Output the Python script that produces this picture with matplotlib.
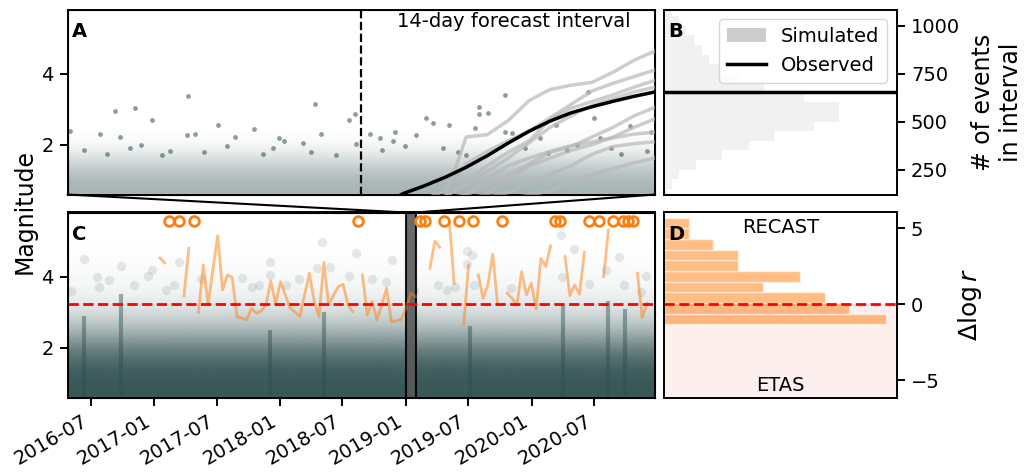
import numpy as np
import pandas as pd
import matplotlib
matplotlib.use("Agg")
import matplotlib.pyplot as plt
import matplotlib.dates as mdates
from matplotlib.colors import to_rgb
from matplotlib.lines import Line2D
from matplotlib.patches import ConnectionPatch, Patch

plt.rcParams['font.family'] = ['DejaVu Sans']
plt.rcParams['font.size'] = 14

SLATE = '#2f4f4f'
ORANGE = '#ff7f0e'
OFF = np.inf  # value beyond the top of the delta log r axis

# ---------------- panel A: catalogue around the forecast start ----------------
zoom_start = pd.Timestamp('2019-01-01')
forecast_start = pd.Timestamp('2019-01-15')
zoom_end = pd.Timestamp('2019-01-29')

# larger events standing out of the dense band (days after zoom_start, magnitude)
a_days = [0.1, 1.57, 2.26, 2.5, 3.2, 3.5, 4.04, 4.9, 5.7, 5.74, 6.1, 7.16, 8.0, 8.9,
          10.1, 10.3, 11.2, 11.8, 12.1, 13.4, 13.7, 13.75, 14.4, 14.9, 15.5, 15.6,
          16.6, 17.1, 17.4, 17.9, 18.2, 19.4, 19.6, 19.6, 20.06, 20.85, 20.85, 21.2,
          22.5, 23.3, 24.3, 24.8, 25.1, 25.4, 26.8, 27.6, 27.8,
          0.8, 1.9, 3.0, 4.5, 6.5, 7.6, 9.3, 9.8, 11.6, 12.8, 15.0, 16.1, 18.6,
          19.0, 21.8, 22.9, 23.8, 25.9, 26.4]
a_mags = [2.39, 2.30, 2.96, 2.22, 3.02, 2.00, 2.70, 1.81, 2.28, 3.36, 2.30, 2.56, 2.23, 2.45,
          2.19, 2.09, 2.06, 3.15, 2.31, 2.70, 2.86, 2.03, 2.30, 2.19, 2.09, 2.37,
          2.28, 2.75, 2.61, 1.91, 2.54, 2.47, 3.06, 2.86, 2.89, 3.39, 2.37, 2.33,
          2.19, 2.56, 2.00, 3.47, 2.75, 2.19, 2.52, 1.81, 2.37,
          1.85, 1.75, 1.90, 1.70, 1.80, 1.95, 1.75, 1.90, 1.80, 1.70, 1.85, 1.95, 1.80,
          1.72, 1.90, 1.78, 1.85, 1.90, 1.75]

# share of the background covered by small events, per 0.2 magnitude bin from 0.6
a_band_alpha = [0.42, 0.40, 0.36, 0.30, 0.22, 0.14, 0.07, 0.03, 0.012, 0, 0, 0, 0,
                0, 0, 0, 0, 0, 0, 0, 0, 0, 0, 0, 0, 0]

# cumulative number of events, day by day through the 14-day interval
obs_cum = [0, 65, 125, 165, 210, 262, 322, 388, 450, 503, 546, 578, 606, 632, 655]
sim_cum = [
    [0, 20, 45, 70, 100, 420, 432, 505, 610, 668, 690, 705, 758, 820, 868],
    [0, 30, 60, 95, 140, 280, 345, 400, 450, 520, 590, 660, 700, 735, 770],
    [0, 25, 50, 80, 105, 190, 270, 340, 400, 510, 570, 605, 640, 680, 715],
    [0, 28, 56, 85, 112, 170, 240, 310, 390, 470, 530, 585, 620, 655, 680],
    [0, 22, 45, 68, 92, 115, 170, 225, 280, 340, 370, 420, 470, 530, 575],
    [0, 20, 40, 60, 80, 100, 118, 200, 270, 310, 350, 380, 420, 470, 515],
    [0, 24, 48, 72, 97, 120, 200, 270, 310, 345, 375, 395, 415, 435, 445],
    [0, 17, 35, 52, 70, 88, 105, 130, 180, 225, 270, 330, 370, 385, 395],
    [0, 14, 28, 42, 56, 70, 85, 100, 115, 140, 180, 222, 255, 285, 310],
]

# ---------------- panel B: distribution of simulated counts ----------------
b_edges = [125, 150, 200, 250, 300, 350, 400, 450, 500, 550, 600, 650, 700, 750,
           800, 850, 900, 950, 1000, 1050, 1085]
b_freq = [3, 8, 15, 32, 58, 85, 110, 150, 175, 175, 140, 100, 75, 55, 45, 38, 30,
          22, 15, 8]

# ---------------- panel C: full catalogue ----------------
c_start = pd.Timestamp('2016-04-24')
c_end = pd.Timestamp('2020-12-24')

c_band_alpha = [0.95, 0.95, 0.94, 0.92, 0.88, 0.82, 0.74, 0.64, 0.53, 0.42, 0.32,
                0.24, 0.17, 0.12, 0.08, 0.055, 0.04, 0.03, 0.02, 0.014, 0.01,
                0.006, 0, 0, 0, 0]

# aftershock sequences showing as dark columns
swarm_dates = ['2016-06-11', '2016-09-25', '2017-12-02', '2018-05-07',
               '2019-07-05', '2020-03-31', '2020-08-09', '2020-09-29']
swarm_tops = [2.9, 3.5, 2.5, 3.0, 2.6, 3.2, 3.3, 3.1]

big_dates = ['2016-12-25', '2016-12-14', '2017-03-13', '2017-02-03', '2017-02-26',
             '2017-12-04', '2017-12-04', '2017-09-11', '2017-10-12', '2017-10-31',
             '2017-05-15', '2018-05-03', '2018-08-08', '2018-11-22', '2018-05-25',
             '2018-04-19', '2018-07-20', '2018-09-25', '2018-11-03', '2018-02-25',
             '2018-01-17', '2019-06-28', '2019-07-12', '2019-06-28', '2019-04-05',
             '2019-05-25', '2019-11-01', '2019-05-01', '2019-01-24', '2019-07-17',
             '2020-03-25', '2020-05-03', '2020-09-10', '2020-11-27', '2020-08-03',
             '2020-06-15', '2020-09-25', '2020-11-12', '2020-03-28',
             '2016-06-11', '2016-09-25', '2016-08-22', '2016-07-24', '2016-05-04',
             '2016-11-03', '2016-07-18']
big_mags = [4.17, 4.01, 4.40, 3.61, 3.75, 4.40, 4.05, 3.95, 3.70, 3.77,
            3.94, 4.98, 4.67, 4.47, 4.26, 4.23, 4.01, 3.92, 3.86, 3.92,
            3.75, 4.73, 4.61, 4.36, 3.77, 3.70, 3.67, 3.61, 3.61, 3.75,
            5.17, 4.78, 4.54, 4.01, 4.17, 3.79, 3.75, 3.56, 3.98,
            4.5, 4.3, 3.9, 3.7, 3.6, 3.75, 4.0]

# delta log r per 14-day window (RECAST vs ETAS)
first_window = '2017-01-17'
dlogr = [3.06, 2.73, OFF, np.nan, OFF, 0.56, 3.68, OFF, -0.53, 2.59,
         0.0, 2.3, 4.52, 0.94, 1.93, 1.76, -0.82, -0.92, -1.03, -0.26,
         -0.59, -0.44, -0.05, 1.54, 0.0, 1.49, 0.61, -0.26, -0.5, -0.81,
         0.6, 2.04, 0.18, -0.81, 2.76, -0.05, 0.6, 1.16, 1.31, -0.05,
         -0.49, OFF, 1.93, -0.71, 0.18, -1.02, -0.05, 1.05, -1.17, -1.1,
         -1.02, -0.3, 0.73, 0.51, OFF, OFF, 2.37, 4.17, 3.76, OFF,
         5.49, 1.38, OFF, -1.32, 2.59, OFF, 1.93, 0.4, 1.27, 3.31,
         0.0, OFF, 0.73, 0.4, -0.05, 2.15, 0.62, 1.4, -0.3, 3.03,
         2.48, 3.86, OFF, OFF, 3.14, 0.57, 1.27, 0.66, 3.43, OFF,
         np.nan, OFF, 1.82, 4.9, OFF, np.nan, OFF, OFF, OFF, 2.04,
         -0.88, 0.07]

# ---------------- panel D: histogram of delta log r ----------------
d_edges = [-1.33, -0.63, 0.07, 0.78, 1.48, 2.18, 2.89, 3.59, 4.29, 5.00, 5.70]
d_counts = [9.0, 7.5, 6.5, 4.0, 5.5, 3.0, 3.0, 2.0, 1.0, 1.0]

MAG_LIM = (0.6, 5.8)
COUNT_LIM = (120, 1085)
DLR_LIM = (-6.15, 6.05)


def draw_band(ax, x0, x1, alphas):
    rgba = np.zeros((len(alphas), 1, 4))
    rgba[..., :3] = to_rgb(SLATE)
    rgba[:, 0, 3] = alphas
    ax.imshow(rgba, extent=[mdates.date2num(x0), mdates.date2num(x1), *MAG_LIM],
              origin='lower', aspect='auto', interpolation='bilinear', zorder=0)


def style(ax):
    for s in ax.spines.values():
        s.set_linewidth(1.4)
    ax.tick_params(width=1.4, length=6, pad=4, labelsize=14)


W, H = 1033, 475
fig = plt.figure(figsize=(W / 100, H / 100), dpi=100)


def box(x0, y0, x1, y1):
    return [x0 / W, 1 - y1 / H, (x1 - x0) / W, (y1 - y0) / H]


ax_a = fig.add_axes(box(67.5, 9.5, 655, 194.5))
ax_b = fig.add_axes(box(664, 9.5, 897, 194.5))
ax_c = fig.add_axes(box(67.5, 212.5, 655, 397.5))
ax_d = fig.add_axes(box(664, 212.5, 897, 397.5))

# ---- A
ax_a.xaxis_date()
draw_band(ax_a, zoom_start, zoom_end, a_band_alpha)
a_dates = zoom_start + pd.to_timedelta(a_days, unit='D')
ax_a.scatter(a_dates, a_mags, s=12, color=SLATE, alpha=0.55, lw=0)
ax_a.axvline(forecast_start, color='black', ls='--', lw=1.6)
ax_a.set_xlim(zoom_start, zoom_end)
ax_a.set_ylim(*MAG_LIM)
ax_a.set_xticks([])
ax_a.set_yticks([2, 4])
ax_a.text(0.76, 0.985, '14-day forecast interval', transform=ax_a.transAxes,
          ha='center', va='top', fontsize=14)
ax_a.text(0.008, 0.93, 'A', transform=ax_a.transAxes, weight='bold', va='top')
style(ax_a)

ax_a2 = ax_a.twinx()
day_dates = forecast_start + pd.to_timedelta(np.arange(len(obs_cum)), unit='D')
for sim in sim_cum:
    ax_a2.plot(day_dates, sim, color='#b8b8b8', alpha=0.7, lw=2.5)
ax_a2.plot(day_dates, obs_cum, color='black', lw=2.5)
ax_a2.set_ylim(*COUNT_LIM)
ax_a2.set_yticks([])
ax_a2.set_xlim(zoom_start, zoom_end)

# ---- B
ax_b.barh(b_edges[:-1], b_freq, height=np.diff(b_edges), align='edge',
          color='#f1f1f1', lw=0)
ax_b.axhline(obs_cum[-1], color='black', lw=2.5)
ax_b.set_xlim(0, 233)
ax_b.set_ylim(*COUNT_LIM)
ax_b.set_xticks([])
ax_b.yaxis.tick_right()
ax_b.yaxis.set_label_position('right')
ax_b.set_yticks([250, 500, 750, 1000])
ax_b.set_ylabel('# of events\nin interval', fontsize=17, labelpad=8)
ax_b.legend(handles=[Patch(facecolor='#cccccc', label='Simulated'),
                     Line2D([], [], color='black', lw=2.5, label='Observed')],
            loc='upper right', fontsize=14)
ax_b.text(0.02, 0.93, 'B', transform=ax_b.transAxes, weight='bold', va='top')
style(ax_b)

# ---- C
ax_c.xaxis_date()
draw_band(ax_c, c_start, c_end, c_band_alpha)
ax_c.vlines(pd.to_datetime(swarm_dates), MAG_LIM[0], swarm_tops, color=SLATE,
            lw=3, alpha=0.45, zorder=1)
ax_c.scatter(pd.to_datetime(big_dates), big_mags, s=45, color=SLATE, alpha=0.12,
             lw=0, zorder=1)
ax_c.axvspan(zoom_start, zoom_end, facecolor='0.35', edgecolor='black', lw=1.5,
             alpha=0.9, zorder=3)
ax_c.set_xlim(c_start, c_end)
ax_c.set_ylim(*MAG_LIM)
ax_c.set_yticks([2, 4])
ax_c.xaxis.set_major_locator(mdates.MonthLocator(bymonth=[1, 7]))
ax_c.xaxis.set_major_formatter(mdates.DateFormatter('%Y-%m'))
plt.setp(ax_c.get_xticklabels(), rotation=30, ha='right')
ax_c.text(0.008, 0.93, 'C', transform=ax_c.transAxes, weight='bold', va='top')
style(ax_c)

ax_c2 = ax_c.twinx()
win_dates = pd.date_range(first_window, periods=len(dlogr), freq='14D')
vals = np.array(dlogr, dtype=float)
off = np.isinf(vals)
ax_c2.plot(win_dates, np.where(off, np.nan, vals), color=ORANGE, alpha=0.5, lw=2)
ax_c2.plot(win_dates[off], np.full(off.sum(), 5.5), 'o', ms=7, mfc='none',
           mec=ORANGE, mew=2)
ax_c2.axhline(0, color='red', ls='--', lw=2)
ax_c2.set_ylim(*DLR_LIM)
ax_c2.set_yticks([])
ax_c2.set_xlim(c_start, c_end)

# ---- D
ax_d.axhspan(DLR_LIM[0], 0, color='#fcefee', lw=0, zorder=0)
ax_d.barh(d_edges[:-1], d_counts, height=np.diff(d_edges), align='edge',
          color=ORANGE, alpha=0.5, edgecolor='white', lw=1)
ax_d.axhline(0, color='red', ls='--', lw=2)
ax_d.set_xlim(0, 9.43)
ax_d.set_ylim(*DLR_LIM)
ax_d.set_xticks([])
ax_d.yaxis.tick_right()
ax_d.yaxis.set_label_position('right')
ax_d.set_yticks([-5, 0, 5])
ax_d.set_ylabel(r'$\Delta \log r$', fontsize=18, labelpad=12)
ax_d.text(0.5, 0.97, 'RECAST', transform=ax_d.transAxes, ha='center', va='top')
ax_d.text(0.5, 0.015, 'ETAS', transform=ax_d.transAxes, ha='center', va='bottom')
ax_d.text(0.02, 0.93, 'D', transform=ax_d.transAxes, weight='bold', va='top')
style(ax_d)

# connectors from the zoomed panel to its span in the catalogue
for xa, xc in [(0, zoom_start), (1, zoom_end)]:
    con = ConnectionPatch(xyA=(xa, 0), coordsA=ax_a.transAxes,
                          xyB=(mdates.date2num(xc), MAG_LIM[1]), coordsB=ax_c.transData,
                          color='black', lw=1.5)
    fig.add_artist(con)

fig.text(25 / W, 1 - 211 / H, 'Magnitude', rotation=90, ha='center', va='center',
         fontsize=17)

fig.savefig('out.png', dpi=100)
